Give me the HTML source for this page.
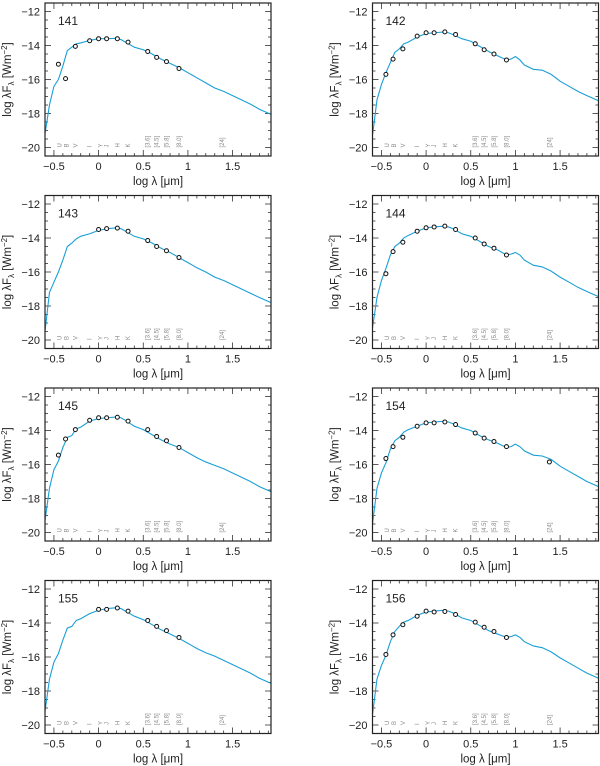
<!DOCTYPE html>
<html><head><meta charset="utf-8">
<style>
html,body{margin:0;padding:0;background:#fff;}
svg{display:block;font-family:"Liberation Sans","DejaVu Sans",sans-serif;}
</style></head>
<body>
<svg id="fig" width="600" height="766" viewBox="0 0 600 766" xmlns="http://www.w3.org/2000/svg"></svg>
<script>
// shared wavelength grid (log lambda, micron)
const modelX = [-0.6,-0.55,-0.5,-0.45,-0.4,-0.35,-0.3,-0.25,-0.2,-0.1,0,0.1,0.2,0.25,0.3,0.4,0.5,0.6,0.7,0.8,0.9,0.95,1.0,1.05,1.1,1.2,1.3,1.4,1.5,1.6,1.7,1.8,1.93];
const panelIds = ["141","142","143","144","145","154","155","156"];
const model141 = [-19.2,-17.5,-16.4,-16.0,-15.2,-14.3,-14.1,-13.9,-13.85,-13.7,-13.6,-13.6,-13.58,-13.65,-13.8,-14.1,-14.25,-14.5,-14.8,-15.05,-15.3,-15.45,-15.6,-15.75,-15.9,-16.2,-16.5,-16.7,-16.95,-17.2,-17.45,-17.75,-18.05];
const model142 = [-19.3,-17.2,-16.3,-15.6,-15.0,-14.4,-14.2,-13.9,-13.8,-13.5,-13.3,-13.25,-13.2,-13.25,-13.35,-13.6,-13.75,-14.05,-14.35,-14.6,-14.85,-14.8,-14.65,-14.85,-15.15,-15.4,-15.45,-15.7,-16.1,-16.4,-16.7,-16.95,-17.25];
const model143 = [-19.5,-17.2,-16.6,-16.0,-15.3,-14.5,-14.3,-14.05,-13.9,-13.75,-13.55,-13.45,-13.4,-13.45,-13.6,-13.9,-14.05,-14.3,-14.6,-14.85,-15.15,-15.3,-15.45,-15.6,-15.75,-16.0,-16.3,-16.5,-16.75,-17.0,-17.25,-17.5,-17.8];
const model144 = [-19.3,-17.5,-16.5,-15.8,-15.0,-14.5,-14.3,-14.0,-13.85,-13.6,-13.4,-13.35,-13.3,-13.35,-13.45,-13.75,-13.9,-14.2,-14.5,-14.7,-15.0,-14.95,-14.85,-15.0,-15.3,-15.6,-15.7,-15.95,-16.3,-16.6,-16.9,-17.15,-17.45];
const model145 = [-19.3,-17.4,-16.3,-15.8,-15.0,-14.4,-14.3,-13.9,-13.8,-13.45,-13.3,-13.25,-13.2,-13.25,-13.4,-13.75,-13.95,-14.25,-14.55,-14.8,-15.0,-15.15,-15.3,-15.45,-15.6,-15.85,-16.05,-16.25,-16.5,-16.75,-17.0,-17.3,-17.6];
const model154 = [-19.5,-17.4,-16.5,-15.9,-15.1,-14.6,-14.4,-14.1,-13.95,-13.75,-13.55,-13.5,-13.45,-13.5,-13.6,-13.85,-14.0,-14.3,-14.55,-14.75,-15.0,-14.95,-14.8,-14.95,-15.2,-15.45,-15.5,-15.7,-16.1,-16.4,-16.7,-17.0,-17.3];
const model155 = [-19.2,-17.3,-16.3,-15.8,-15.0,-14.3,-14.2,-13.85,-13.75,-13.45,-13.25,-13.15,-13.1,-13.15,-13.3,-13.6,-13.8,-14.1,-14.4,-14.65,-14.9,-15.05,-15.2,-15.35,-15.5,-15.75,-15.95,-16.2,-16.45,-16.7,-16.95,-17.25,-17.55];
const model156 = [-19.4,-17.3,-16.5,-15.9,-15.1,-14.5,-14.2,-13.95,-13.85,-13.55,-13.35,-13.3,-13.25,-13.3,-13.4,-13.7,-13.85,-14.15,-14.45,-14.65,-14.85,-14.8,-14.7,-14.85,-15.1,-15.35,-15.45,-15.7,-16.05,-16.35,-16.65,-16.95,-17.25];
// photometry
const obsX141 = [-0.45,-0.37,-0.26,-0.1,0,0.09,0.21,0.33,0.55,0.65,0.76,0.9];
const obsY141 = [-15.1,-15.95,-14.05,-13.72,-13.6,-13.6,-13.6,-13.8,-14.35,-14.7,-14.95,-15.35];
const obsX142 = [-0.45,-0.37,-0.26,-0.1,0,0.09,0.21,0.33,0.55,0.65,0.76,0.9];
const obsY142 = [-15.7,-14.8,-14.2,-13.45,-13.25,-13.25,-13.2,-13.35,-13.9,-14.25,-14.5,-14.85];
const obsX143 = [0,0.09,0.21,0.33,0.55,0.65,0.76,0.9];
const obsY143 = [-13.5,-13.45,-13.42,-13.6,-14.15,-14.5,-14.75,-15.15];
const obsX144 = [-0.45,-0.37,-0.26,-0.1,0,0.09,0.21,0.33,0.55,0.65,0.76,0.9];
const obsY144 = [-16.1,-14.8,-14.25,-13.6,-13.4,-13.35,-13.3,-13.5,-14.0,-14.35,-14.6,-15.0];
const obsX145 = [-0.45,-0.37,-0.26,-0.1,0,0.09,0.21,0.33,0.55,0.65,0.76,0.9];
const obsY145 = [-15.45,-14.5,-13.95,-13.4,-13.25,-13.25,-13.22,-13.45,-13.95,-14.35,-14.6,-15.0];
const obsX154 = [-0.45,-0.37,-0.26,-0.1,0,0.09,0.21,0.33,0.55,0.65,0.76,0.9,1.38];
const obsY154 = [-15.65,-14.95,-14.4,-13.75,-13.55,-13.55,-13.5,-13.65,-14.15,-14.45,-14.65,-14.95,-15.85];
const obsX155 = [0,0.09,0.21,0.33,0.55,0.65,0.76,0.9];
const obsY155 = [-13.2,-13.2,-13.12,-13.3,-13.85,-14.2,-14.45,-14.85];
const obsX156 = [-0.45,-0.37,-0.26,-0.1,0,0.09,0.21,0.33,0.55,0.65,0.76,0.9];
const obsY156 = [-15.85,-14.7,-14.1,-13.6,-13.3,-13.35,-13.32,-13.5,-13.95,-14.25,-14.5,-14.85];
const xTicks = [-0.5,0,0.5,1,1.5];
const xTickLabels = ["\u22120.5","0","0.5","1","1.5"];
const yTicks = [-12,-14,-16,-18,-20];
const yTickLabels = ["\u221212","\u221214","\u221216","\u221218","\u221220"];
const bandNames = ["U","B","V","I","Y","J","H","K","[3.6]","[4.5]","[5.8]","[8.0]","[24]"];
const bandX = [-0.44,-0.36,-0.26,-0.1,0.02,0.09,0.21,0.33,0.55,0.65,0.76,0.9,1.38];

const models = {"141":model141,"142":model142,"143":model143,"144":model144,"145":model145,"154":model154,"155":model155,"156":model156};
const obsXs = {"141":obsX141,"142":obsX142,"143":obsX143,"144":obsX144,"145":obsX145,"154":obsX154,"155":obsX155,"156":obsX156};
const obsYs = {"141":obsY141,"142":obsY142,"143":obsY143,"144":obsY144,"145":obsY145,"154":obsY154,"155":obsY155,"156":obsY156};

const NS = "http://www.w3.org/2000/svg";
const svg = document.getElementById("fig");
function mk(tag, attrs, parent){const e=document.createElementNS(NS,tag);for(const k in attrs)e.setAttribute(k,attrs[k]);(parent||svg).appendChild(e);return e;}

const XMIN=-0.6, XMAX=1.93, YMIN=-20.5, YMAX=-11.5;
const W=226, H=153;
panelIds.forEach((id, i) => {
  const col = i % 2, row = Math.floor(i / 2);
  const L = col ? 372.5 : 45, T = 3 + row * 192.5;
  const sx = v => L + (v - XMIN) / (XMAX - XMIN) * W;
  const sy = v => T + (YMAX - v) / (YMAX - YMIN) * H;
  const g = mk("g", {});
  
  
  const clipId = "clip" + id;
  const cp = mk("clipPath", {id: clipId}, g);
  mk("rect", {x:L, y:T, width:W, height:H}, cp);
  // ticks
  const tk = mk("g", {stroke:"#333", "stroke-width":0.8}, g);
  
  
  for (let k = -6; k <= 19; k++) {
    const v = k / 10; if (v < XMIN || v > XMAX) continue;
    const major = Math.abs(v * 2 - Math.round(v * 2)) < 1e-6;
    const len = major ? 6 : 3, x = sx(v);
    mk("line", {x1:x, y1:T+H, x2:x, y2:T+H-len}, tk);
    mk("line", {x1:x, y1:T, x2:x, y2:T+len}, tk);
  }
  for (let k = -41; k <= -23; k++) {
    const v = k / 2; if (v < YMIN || v > YMAX) continue;
    const major = (Math.round(v) === v && v % 2 === 0);
    const len = major ? 6 : 3, y = sy(v);
    mk("line", {x1:L, y1:y, x2:L+len, y2:y}, tk);
    mk("line", {x1:L+W, y1:y, x2:L+W-len, y2:y}, tk);
  }
  // tick labels
  xTicks.forEach((v, j) => {
    const t = mk("text", {x:sx(v), y:T+H+14, "font-size":11, "text-anchor":"middle", fill:"#222"}, g);
    t.textContent = xTickLabels[j];
    
    
  });
  yTicks.forEach((v, j) => {
    const t = mk("text", {x:L-5, y:sy(v)+4, "font-size":11, "text-anchor":"end", fill:"#222"}, g);
    t.textContent = yTickLabels[j];
    
    
  });
  // axis titles
  const xt = mk("text", {x:L+W/2, y:T+H+29, "font-size":11.5, "text-anchor":"middle", fill:"#222"}, g);
  xt.innerHTML = 'log \u03bb [\u03bcm]';
  
  
  const yx = L - 34, yy = T + H / 2;
  const yt = mk("text", {x:yx, y:yy, "font-size":11.5, "text-anchor":"middle", fill:"#222", transform:`rotate(-90 ${yx} ${yy})`}, g);
  yt.innerHTML = 'log \u03bbF<tspan font-size="8" dy="3">\u03bb</tspan><tspan dy="-3"> [Wm</tspan><tspan font-size="8" dy="-4">\u22122</tspan><tspan dy="4">]</tspan>';
  
  
  // band labels
  bandNames.forEach((b, j) => {
    const x = sx(bandX[j]) + 2, y = sy(-20) + (b.length > 1 ? 0 : 0);
    const t = mk("text", {x:x, y:y, "font-size":6, fill:"#888", transform:`rotate(-90 ${x} ${y})`}, g);
    t.textContent = b;
    
    
  });
  // panel id
  const pl = mk("text", {x:L+13, y:T+22, "font-size":12, fill:"#222"}, g);
  pl.textContent = id;
  
  
  // model curve
  const ys = models[id];
  const d = modelX.map((x, j) => (j ? "L" : "M") + sx(x).toFixed(2) + "," + sy(ys[j]).toFixed(2)).join("");
  const path = mk("path", {d:d, fill:"none", stroke:"#1a9fd6", "stroke-width":1.1, "clip-path":`url(#${clipId})`}, g);
  
  
  // observed points
  obsXs[id].forEach((x, j) => {
    const c = mk("circle", {cx:sx(x), cy:sy(obsYs[id][j]), r:2, fill:"#fff", stroke:"#111", "stroke-width":1}, g);
    
    
  });
  // frame
  const fr = mk("rect", {x:L, y:T, width:W, height:H, fill:"none", stroke:"#222", "stroke-width":1.2}, g);
  
  
});
</script>
</body></html>
